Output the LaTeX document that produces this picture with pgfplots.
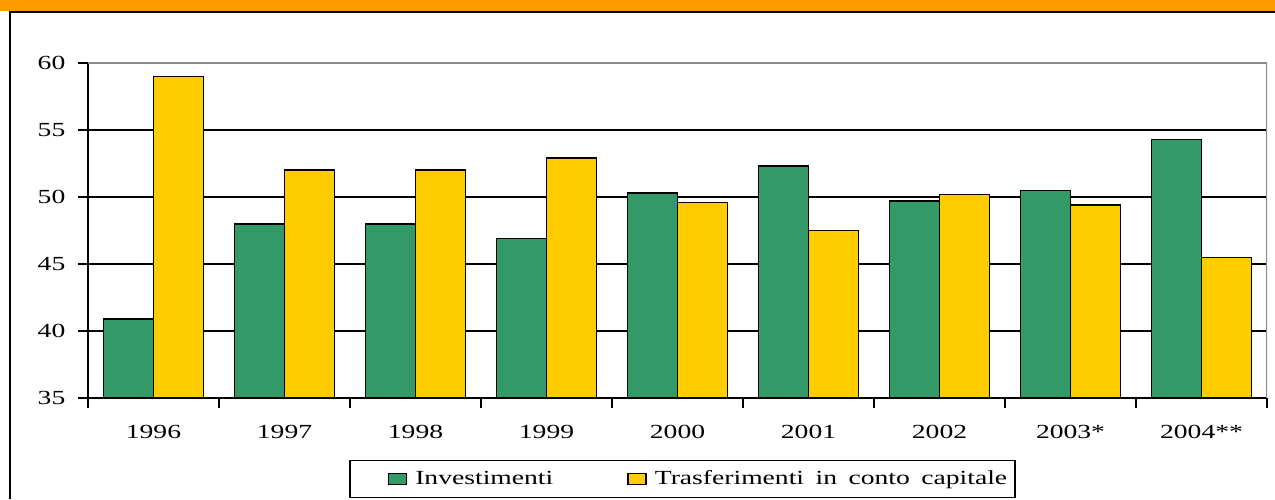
\documentclass[border=0pt]{standalone}
\usepackage{fontspec}
\setmainfont{Liberation Serif}[FakeStretch=1.38]
\usepackage{pgfplots}
\pgfplotsset{compat=1.18}
\definecolor{verde}{RGB}{51,153,102}
\definecolor{giallo}{RGB}{255,204,0}
\definecolor{arancio}{RGB}{255,153,0}
\definecolor{bordo}{RGB}{140,140,140}

\begin{document}
\fontsize{10}{12}\selectfont
\begin{tikzpicture}
\useasboundingbox (0,0) rectangle (637.5pt,249.5pt);
\fill[arancio] (0,244pt) rectangle (637.5pt,249.5pt);
\draw[line width=1pt] (5pt,0) -- (5pt,243.5pt) -- (637.5pt,243.5pt);
\begin{axis}[
  at={(44pt,50.5pt)}, anchor=south west,
  width=589.5pt, height=167.5pt, scale only axis,
  ybar=0pt, bar width=25pt,
  xmin=-0.5, xmax=8.5, ymin=35, ymax=60,
  xtick={-0.5,0.5,1.5,2.5,3.5,4.5,5.5,6.5,7.5,8.5},
  x tick label as interval,
  xticklabels={1996,1997,1998,1999,2000,2001,2002,2003*,2004**},
  ytick={35,40,45,50,55,60},
  axis x line*=bottom, axis y line*=left,
  axis line style={-, black, line width=0.8pt},
  tick align=outside, major tick length=5pt,
  tick style={black, line width=0.8pt},
  ymajorgrids, grid style={black, line width=0.8pt},
  /pgf/number format/assume math mode=true,
  tick label style={font=\fontsize{10}{12}\selectfont},
  y tick label style={anchor=east, xshift=-2.8pt},
  x tick label style={anchor=north, yshift=-5.3pt},
  legend columns=2,
  legend style={at={(0.5042,-0.2418)}, anchor=center, draw=black, line width=0.8pt,
    font=\fontsize{10}{12}\selectfont, inner xsep=2pt, inner ysep=3pt,
    /tikz/every even column/.append style={column sep=35pt}},
]
\addplot[fill=verde, draw=black, line width=0.8pt,
  legend image code/.code={\path (-17pt,0) (11pt,0); \draw[fill=verde, draw=black, line width=0.7pt] (0pt,-2.75pt) rectangle (9pt,2.75pt);}]
  coordinates {
  (0,40.9) (1,48.0) (2,48.0) (3,46.9) (4,50.3) (5,52.3) (6,49.7) (7,50.5) (8,54.3)};
\addplot[fill=giallo, draw=black, line width=0.8pt,
  legend image code/.code={\path (0pt,0) (11pt,0); \draw[fill=giallo, draw=black, line width=0.7pt] (0pt,-2.75pt) rectangle (9pt,2.75pt);}]
  coordinates {
  (0,59.0) (1,52.0) (2,52.0) (3,52.9) (4,49.6) (5,47.5) (6,50.2) (7,49.4) (8,45.5)};
\legend{Investimenti, {Trasferimenti\hspace{2.3pt} in\hspace{2.3pt} conto\hspace{2.3pt} capitale}}
\draw[bordo, line width=1pt] (rel axis cs:0,1) -- (rel axis cs:1,1) -- (rel axis cs:1,0);
\end{axis}
\end{tikzpicture}
\end{document}
